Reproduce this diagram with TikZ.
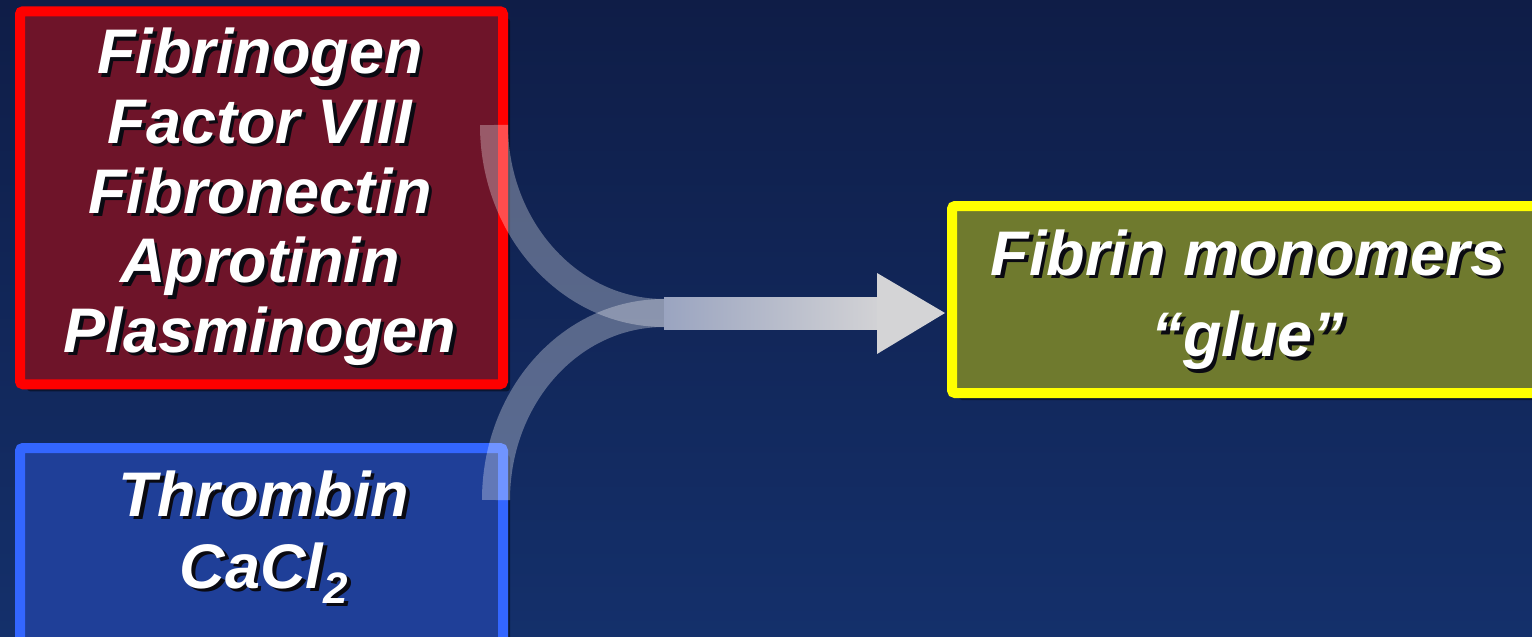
\documentclass[tikz,border=0pt]{standalone}
\usepackage{fontspec}
\setmainfont{Liberation Sans}
\usetikzlibrary{shadows,calc}
\definecolor{bgtop}{HTML}{0F1D47}
\definecolor{bgmid}{HTML}{12275E}
\definecolor{bgbot}{HTML}{14306B}
\definecolor{boxred}{HTML}{FF0000}
\definecolor{fillred}{HTML}{6E1429}
\definecolor{boxblue}{HTML}{3366FF}
\definecolor{fillblue}{HTML}{1F3F98}
\definecolor{boxyellow}{HTML}{FFFF00}
\definecolor{fillolive}{HTML}{6F7A2E}
\definecolor{shaftL}{HTML}{9AA4C0}
\definecolor{shaftR}{HTML}{D2D2D5}
\definecolor{headcol}{HTML}{D4D4D6}
\definecolor{txtshadow}{HTML}{0A0A12}
% white text with a dark drop shadow (shadow drawn first, zero width)
\newcommand{\sh}[1]{\makebox[0pt][l]{\hspace{3.5pt}\raisebox{-3.5pt}{\color{txtshadow}#1}}#1}
\newcommand{\subtwo}{\raisebox{-15pt}{\fontsize{44}{44}\selectfont 2}}
\begin{document}
\begin{tikzpicture}[x=1pt,y=-1pt,
  box/.style={rounded corners=3pt, line width=10pt, inner sep=0pt,
    drop shadow={shadow xshift=7pt, shadow yshift=-7pt, opacity=0.45, fill=black}},
  redbox/.style={box, draw=boxred, fill=fillred, minimum width=483pt, minimum height=373pt},
  bluebox/.style={box, draw=boxblue, fill=fillblue, minimum width=483pt, minimum height=224pt},
  yellowbox/.style={box, draw=boxyellow, fill=fillolive, minimum width=592pt, minimum height=187pt},
  lbl/.style={text=white, inner sep=0pt, align=center, font=\fontsize{63}{#1}\selectfont\bfseries\itshape},
  curve/.style={draw=white, opacity=0.3, line width=28pt},
]
\useasboundingbox (0,0) rectangle (1532,637);
\clip (0,0) rectangle (1532,637);
\shade[top color=bgtop, middle color=bgmid, bottom color=bgbot] (0,0) rectangle (1532,637);

% boxes
\node[redbox] (red) at (261.5,197.75) {};
\node[bluebox] (blue) at (261.5,560) {};
\node[yellowbox] (yellow) at (1248,299.5) {};

% labels
\node[lbl=69.7] (redtxt) at (260,198.5) {\sh{Fibrinogen}\\\sh{Factor VIII}\\\sh{Fibronectin}\\\sh{Aprotinin}\\\sh{Plasminogen}};
\node[lbl=72] (bluetxt) at (264,538.7) {\sh{Thrombin}\\\sh{CaCl\subtwo}};
\node[lbl=81.7] (yeltxt) at (1248,301.6) {\sh{Fibrin monomers}\\\sh{“glue”}};

% arrow
\coordinate (t0) at (494,125);
\coordinate (b0) at (496,500);
\coordinate (m) at (664,313);
\coordinate (hb) at (878,313);
\coordinate (tip) at (945,313);
\draw[curve] (t0) .. controls (494,229) and (570,313) .. (m);
\draw[curve] (b0) .. controls (496,397) and (570,313) .. (m);
\shade[left color=shaftL, right color=shaftR] ($(m)+(0,-16)$) rectangle ($(hb)+(0,16)$);
\fill[headcol] ($(hb)+(-1,-40)$) -- (tip) -- ($(hb)+(-1,41)$) -- cycle;
\end{tikzpicture}
\end{document}
